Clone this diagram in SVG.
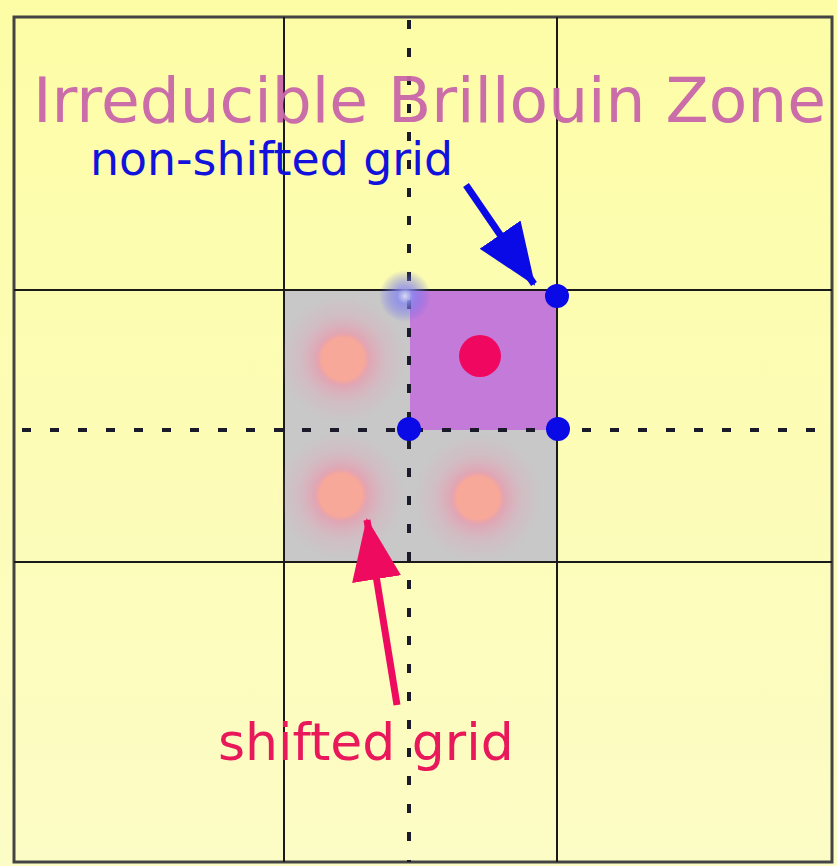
<svg xmlns="http://www.w3.org/2000/svg" width="837" height="866" viewBox="0 0 837 866">
<defs>
<linearGradient id="bg" x1="0" y1="0" x2="0" y2="1">
<stop offset="0" stop-color="#fdfda6"/>
<stop offset="1" stop-color="#fcfcc6"/>
</linearGradient>
<radialGradient id="glow">
<stop offset="0" stop-color="#f8a898"/>
<stop offset="0.33" stop-color="#f8a898"/>
<stop offset="0.42" stop-color="#f090a8" stop-opacity="0.6"/>
<stop offset="0.7" stop-color="#e8a0b8" stop-opacity="0.25"/>
<stop offset="1" stop-color="#e8a0b8" stop-opacity="0"/>
</radialGradient>
<radialGradient id="bglow">
<stop offset="0" stop-color="#d8dcf0"/>
<stop offset="0.3" stop-color="#8888f0" stop-opacity="0.8"/>
<stop offset="1" stop-color="#6060f0" stop-opacity="0"/>
</radialGradient>
<marker id="ahB" markerUnits="userSpaceOnUse" markerWidth="64" markerHeight="64" refX="58" refY="26" orient="auto" viewBox="0 0 62 52">
<path d="M0,2 L60,26 L0,50 Z" fill="#0a0ae6"/>
</marker>
<marker id="ahR" markerUnits="userSpaceOnUse" markerWidth="64" markerHeight="64" refX="58" refY="26" orient="auto" viewBox="0 0 62 52">
<path d="M0,2 L60,26 L0,50 Z" fill="#ee0a5e"/>
</marker>
</defs>
<style>
.grid{stroke:#1a1a1a;stroke-width:2;fill:none}
.dash{stroke:#1a1a2a;stroke-width:4;stroke-dasharray:9 19;fill:none}
.bdot{fill:#0a0ae6}
.t{font-family:"DejaVu Sans",sans-serif}
</style>
<rect width="837" height="866" fill="url(#bg)"/>
<g id="zone">
<rect x="284" y="290" width="273" height="272" fill="#c8c8c8"/>
<rect x="410" y="290" width="147" height="140" fill="#c47ad8"/>
</g>
<g id="grid">
<rect x="14" y="17" width="818" height="845" fill="none" stroke="#444" stroke-width="3"/>
<line class="grid" x1="284" y1="17" x2="284" y2="862"/>
<line class="grid" x1="557" y1="17" x2="557" y2="862"/>
<line class="grid" x1="14" y1="290" x2="832" y2="290"/>
<line class="grid" x1="14" y1="562" x2="832" y2="562"/>
<line class="dash" x1="409" y1="20" x2="409" y2="862"/>
<line class="dash" x1="22" y1="430" x2="832" y2="430"/>
</g>
<g id="shifted-points">
<circle cx="343" cy="359" r="64" fill="url(#glow)"/>
<circle cx="341" cy="495" r="64" fill="url(#glow)"/>
<circle cx="478" cy="498" r="64" fill="url(#glow)"/>
<circle cx="480" cy="356" r="21" fill="#f0075f"/>
</g>
<g id="nonshifted-points">
<circle cx="405" cy="296" r="26" fill="url(#bglow)"/>
<circle class="bdot" cx="557" cy="296" r="12"/>
<circle class="bdot" cx="409" cy="429" r="12"/>
<circle class="bdot" cx="558" cy="429" r="12"/>
</g>
<g id="connectors">
<line x1="466" y1="185" x2="534" y2="284" stroke="#0a0ae6" stroke-width="7" marker-end="url(#ahB)"/>
<line x1="397" y1="705" x2="367" y2="520" stroke="#ee0a5e" stroke-width="7" marker-end="url(#ahR)"/>
</g>
<g id="labels">
<text class="t" x="33" y="122" font-size="63" fill="#c865a8" fill-opacity="0.95">Irreducible Brillouin Zone</text>
<text class="t" x="90" y="175" font-size="45.8" fill="#1212dc">non-shifted grid</text>
<text class="t" x="218" y="760" font-size="52" fill="#e8185a">shifted grid</text>
</g>
</svg>
